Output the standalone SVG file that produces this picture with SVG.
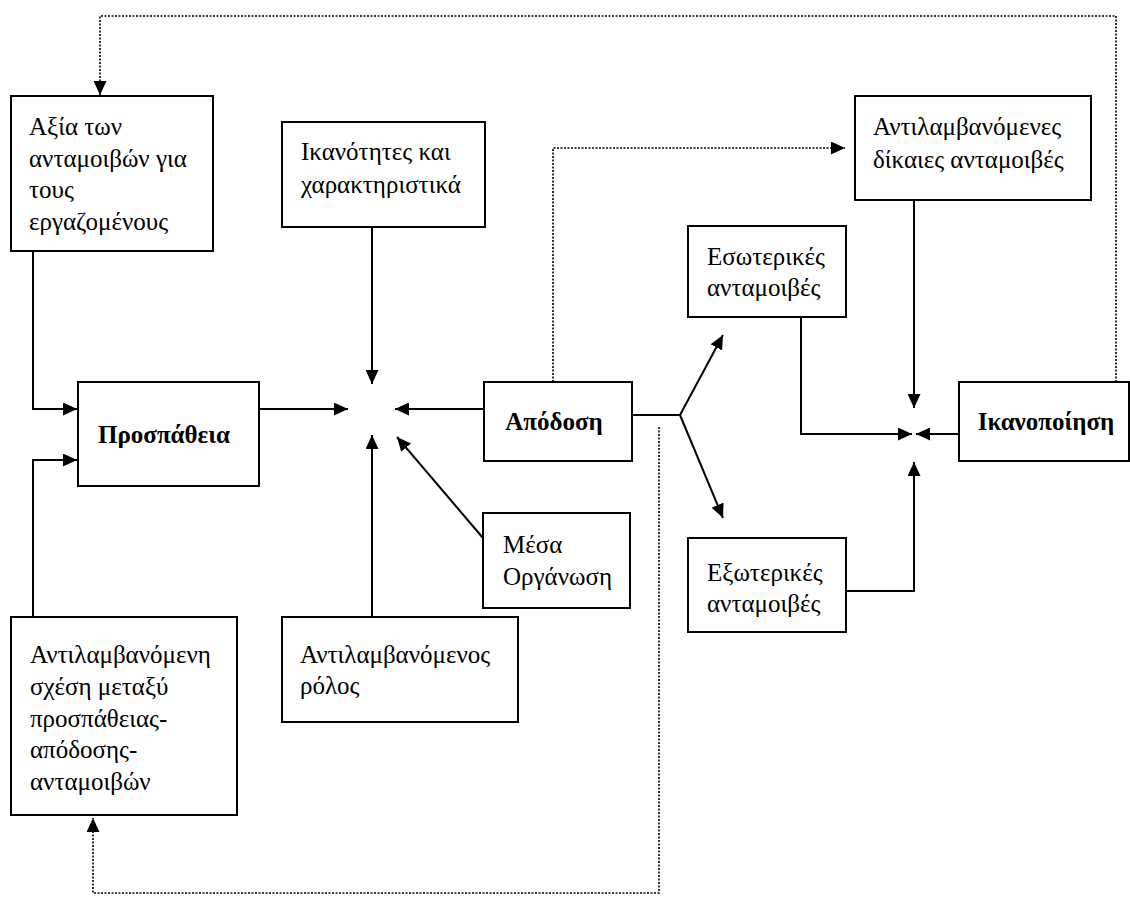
<svg xmlns="http://www.w3.org/2000/svg" width="1130" height="897" viewBox="0 0 1130 897">
<style>
.box{fill:#fff;stroke:#000;stroke-width:2}
.t{font-family:"Liberation Serif","Times New Roman",serif;font-size:25px;fill:#000}
.b{font-weight:bold;text-anchor:middle}
.ln{fill:none;stroke:#000;stroke-width:2}
.dt{fill:none;stroke:#000;stroke-width:1.6;stroke-dasharray:2 1.5}
</style>
<defs>
<marker id="ar" markerUnits="userSpaceOnUse" markerWidth="15" markerHeight="13" refX="14" refY="6.5" orient="auto">
<path d="M0,0 L14,6.5 L0,13 z" fill="#000"/>
</marker>
</defs>
<rect width="1130" height="897" fill="#fff"/>
<g id="connectors">
<polyline class="dt" points="1116,382 1116,16 100,16 100,95" marker-end="url(#ar)"/>
<polyline class="dt" points="553,382 553,148 845,148" marker-end="url(#ar)"/>
<polyline class="dt" points="659,427 659,893 93,893 93,818" marker-end="url(#ar)"/>
<polyline class="ln" points="33,251 33,409 77,409" marker-end="url(#ar)"/>
<polyline class="ln" points="33,617 33,460 77,460" marker-end="url(#ar)"/>
<line class="ln" x1="259" y1="409" x2="348" y2="409" marker-end="url(#ar)"/>
<line class="ln" x1="372" y1="227" x2="372" y2="384" marker-end="url(#ar)"/>
<line class="ln" x1="372" y1="617" x2="372" y2="435" marker-end="url(#ar)"/>
<line class="ln" x1="484" y1="409" x2="395" y2="409" marker-end="url(#ar)"/>
<line class="ln" x1="483" y1="538" x2="397" y2="437" marker-end="url(#ar)"/>
<polyline class="ln" points="632,415 680,415 723,335" marker-end="url(#ar)"/>
<line class="ln" x1="680" y1="415" x2="723" y2="518" marker-end="url(#ar)"/>
<line class="ln" x1="914" y1="200" x2="914" y2="408" marker-end="url(#ar)"/>
<polyline class="ln" points="801,317 801,434 912,434" marker-end="url(#ar)"/>
<line class="ln" x1="959" y1="434" x2="916" y2="434" marker-end="url(#ar)"/>
<polyline class="ln" points="846,591 914,591 914,462" marker-end="url(#ar)"/>
</g>
<g id="n-axia">
<rect class="box" x="11" y="96" width="202" height="155"/>
<text class="t" x="29" y="135">Αξία των</text>
<text class="t" x="29" y="167">ανταμοιβών για</text>
<text class="t" x="29" y="198">τους</text>
<text class="t" x="29" y="230">εργαζομένους</text>
</g>
<g id="n-ikanotites">
<rect class="box" x="282" y="122" width="203" height="105"/>
<text class="t" x="301" y="160">Ικανότητες και</text>
<text class="t" x="301" y="193">χαρακτηριστικά</text>
</g>
<g id="n-dikaies">
<rect class="box" x="855" y="96" width="236" height="104"/>
<text class="t" x="873" y="135">Αντιλαμβανόμενες</text>
<text class="t" x="873" y="168">δίκαιες ανταμοιβές</text>
</g>
<g id="n-esoterikes">
<rect class="box" x="688" y="226" width="158" height="91"/>
<text class="t" x="707" y="265">Εσωτερικές</text>
<text class="t" x="707" y="296">ανταμοιβές</text>
</g>
<g id="n-prospatheia">
<rect class="box" x="78" y="382" width="181" height="104"/>
<text class="t b" x="164" y="443">Προσπάθεια</text>
</g>
<g id="n-apodosi">
<rect class="box" x="484" y="382" width="148" height="79"/>
<text class="t b" x="554" y="430">Απόδοση</text>
</g>
<g id="n-ikanopoiisi">
<rect class="box" x="959" y="382" width="170" height="79"/>
<text class="t b" x="1046" y="430">Ικανοποίηση</text>
</g>
<g id="n-mesa">
<rect class="box" x="483" y="513" width="147" height="95"/>
<text class="t" x="503" y="553">Μέσα</text>
<text class="t" x="503" y="585">Οργάνωση</text>
</g>
<g id="n-exoterikes">
<rect class="box" x="688" y="538" width="158" height="94"/>
<text class="t" x="707" y="581">Εξωτερικές</text>
<text class="t" x="707" y="612">ανταμοιβές</text>
</g>
<g id="n-schesi">
<rect class="box" x="11" y="617" width="226" height="198"/>
<text class="t" x="30" y="663">Αντιλαμβανόμενη</text>
<text class="t" x="30" y="695">σχέση μεταξύ</text>
<text class="t" x="30" y="727">προσπάθειας-</text>
<text class="t" x="30" y="758">απόδοσης-</text>
<text class="t" x="30" y="790">ανταμοιβών</text>
</g>
<g id="n-rolos">
<rect class="box" x="282" y="617" width="236" height="105"/>
<text class="t" x="300" y="663">Αντιλαμβανόμενος</text>
<text class="t" x="300" y="694">ρόλος</text>
</g>
</svg>
